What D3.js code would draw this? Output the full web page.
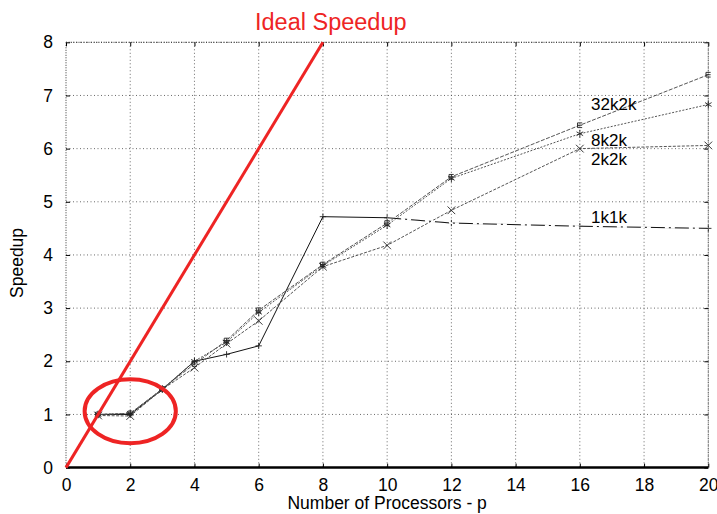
<!DOCTYPE html>
<html>
<head>
<meta charset="utf-8">
<script src="https://cdn.jsdelivr.net/npm/d3@7"></script>
<style>
  body { margin: 0; background: #fff; }
  text { font-family: "Liberation Sans", Arial, sans-serif; }
</style>
</head>
<body>
<script>
// Number of processors used in each run
var procs = [1, 2, 3, 4, 5, 6, 8, 10, 12, 16, 20];
// Measured speedup per problem size
var speedup1k1k = [1.0, 1.0, 1.47, 2.0, 2.13, 2.29, 4.72, 4.70, 4.60, 4.54, 4.50];
var speedup2k2k = [0.98, 0.97, 1.47, 1.88, 2.33, 2.76, 3.78, 4.18, 4.84, 6.0, 6.06];
var speedup8k2k = [1.0, 1.02, 1.48, 2.0, 2.36, 2.92, 3.80, 4.56, 5.44, 6.28, 6.83];
var speedup32k2k = [1.0, 1.02, 1.48, 1.95, 2.39, 2.96, 3.82, 4.60, 5.47, 6.44, 7.39];
// Ideal speedup line
var idealProcs = [0, 8];
var idealSpeedup = [0, 8];
// Axis ticks
var xTicks = [0, 2, 4, 6, 8, 10, 12, 14, 16, 18, 20];
var yTicks = [0, 1, 2, 3, 4, 5, 6, 7, 8];

var W = 717, H = 514;
var margin = {top: 42.3, right: 8.7, bottom: 46.4, left: 66};
var width = W - margin.left - margin.right,
    height = H - margin.top - margin.bottom;

var svg = d3.select("body").append("svg")
  .attr("width", W).attr("height", H);
var g = svg.append("g")
  .attr("transform", "translate(" + margin.left + "," + margin.top + ")");

var x = d3.scaleLinear().domain([0, 20]).range([0, width]);
var y = d3.scaleLinear().domain([0, 8]).range([height, 0]);

// thin "+" marker (gnuplot style)
var symbolPlus = {
  draw: function(ctx, size) {
    var r = Math.sqrt(size) / 2;
    ctx.moveTo(-r, 0); ctx.lineTo(r, 0);
    ctx.moveTo(0, -r); ctx.lineTo(0, r);
  }
};
// box with a bar through it
var symbolBox = {
  draw: function(ctx, size) {
    var r = Math.sqrt(size) / 2;
    ctx.moveTo(-r, -r); ctx.lineTo(r, -r);
    ctx.moveTo(-r, r); ctx.lineTo(r, r);
    ctx.moveTo(-r, 0); ctx.lineTo(r, 0);
    ctx.moveTo(-r, -r); ctx.lineTo(-r, r);
  }
};

// grid lines (dotted)
g.selectAll(".vgrid").data(xTicks.slice(1)).enter().append("line")
  .attr("x1", function(d) { return x(d); }).attr("x2", function(d) { return x(d); })
  .attr("y1", 0).attr("y2", height)
  .attr("stroke", "#444").attr("stroke-width", 0.8).attr("stroke-dasharray", "1,2.5");
g.selectAll(".hgrid").data(yTicks.slice(1)).enter().append("line")
  .attr("x1", 0).attr("x2", width)
  .attr("y1", function(d) { return y(d); }).attr("y2", function(d) { return y(d); })
  .attr("stroke", "#444").attr("stroke-width", 0.8).attr("stroke-dasharray", "1,2.5");

// left and right borders, dotted
g.append("line").attr("x1", 0).attr("x2", 0).attr("y1", 0).attr("y2", height)
  .attr("stroke", "#333").attr("stroke-width", 1).attr("stroke-dasharray", "1,1.5");
g.append("line").attr("x1", width).attr("x2", width).attr("y1", 0).attr("y2", height)
  .attr("stroke", "#555").attr("stroke-width", 1).attr("stroke-dasharray", "1,1");

// axes with inward ticks
var xAxis = g.append("g")
  .attr("transform", "translate(0," + height + ")")
  .call(d3.axisBottom(x).tickValues(xTicks).tickSize(-4).tickPadding(11));
var xTop = g.append("g")
  .call(d3.axisTop(x).tickValues(xTicks).tickSize(-4).tickFormat(""));
var yAxis = g.append("g")
  .call(d3.axisLeft(y).tickValues(yTicks).tickSize(-4).tickPadding(13));
var yRight = g.append("g")
  .attr("transform", "translate(" + width + ",0)")
  .call(d3.axisRight(y).tickValues(yTicks).tickSize(-4).tickFormat(""));

[xAxis, xTop, yAxis, yRight].forEach(function(a) {
  a.select(".domain").remove();
  a.selectAll("line").attr("stroke", "#000").attr("stroke-width", 1);
  a.selectAll("text").attr("font-size", "17.5px").attr("fill", "#000")
    .style("font-family", "Liberation Sans, Arial, sans-serif");
});
// top border dotted
g.append("line").attr("x1", 0).attr("x2", width).attr("y1", 0).attr("y2", 0)
  .attr("stroke", "#333").attr("stroke-width", 1).attr("stroke-dasharray", "1,1.5");
// thick bottom axis line
g.append("line").attr("x1", 0).attr("x2", width).attr("y1", height).attr("y2", height)
  .attr("stroke", "#000").attr("stroke-width", 2.5);

// series
var series = [
  {name: "1k1k", vals: speedup1k1k, dash: null, sym: symbolPlus, label: [16.35, 4.60]},
  {name: "2k2k", vals: speedup2k2k, dash: "3,1.5", sym: d3.symbolTimes, label: [16.35, 5.70]},
  {name: "8k2k", vals: speedup8k2k, dash: "2,1.5", sym: d3.symbolAsterisk, label: [16.35, 6.04]},
  {name: "32k2k", vals: speedup32k2k, dash: "4,1.5", sym: symbolBox, label: [16.35, 6.73]}
];

var line = d3.line()
  .x(function(d) { return x(d[0]); })
  .y(function(d) { return y(d[1]); });

series.forEach(function(s) {
  var pts = procs.map(function(p, i) { return [p, s.vals[i]]; });
  g.append("path").datum(pts)
    .attr("d", line)
    .attr("fill", "none")
    .attr("stroke", s.name == "1k1k" ? "#111" : "#555")
    .attr("stroke-width", 1)
    .attr("stroke-dasharray", s.dash);
  g.selectAll(".pt" + s.name).data(pts).enter().append("path")
    .attr("transform", function(d) { return "translate(" + x(d[0]) + "," + y(d[1]) + ")"; })
    .attr("d", d3.symbol().type(s.sym).size(s.sym == symbolBox ? 22 : 40))
    .attr("fill", "none")
    .attr("stroke", "#222")
    .attr("stroke-width", 0.9);
  g.append("text")
    .attr("x", x(s.label[0])).attr("y", y(s.label[1]))
    .attr("font-size", "17px").attr("fill", "#000")
    .text(s.name);
});

// 1k1k drawn dash-dot after p = 10
var tail = procs.map(function(p, i) { return [p, speedup1k1k[i]]; })
  .filter(function(d) { return d[0] >= 10; });
g.append("path").datum(tail).attr("d", line)
  .attr("fill", "none").attr("stroke", "#fff").attr("stroke-width", 2);
g.append("path").datum(tail).attr("d", line)
  .attr("fill", "none").attr("stroke", "#111").attr("stroke-width", 1)
  .attr("stroke-dasharray", "14,4,2,4");

// ideal speedup
var idealPts = idealProcs.map(function(p, i) { return [p, idealSpeedup[i]]; });
g.append("path").datum(idealPts).attr("d", line)
  .attr("fill", "none").attr("stroke", "#ee2424").attr("stroke-width", 3);
svg.append("text")
  .attr("x", 255).attr("y", 30)
  .attr("font-size", "23.5px").attr("fill", "#ee2424")
  .text("Ideal Speedup");

// highlight ellipse around p = 1..2
g.append("ellipse")
  .attr("cx", x(2)).attr("cy", y(1.06))
  .attr("rx", x(1.42) - x(0)).attr("ry", y(0) - y(0.6))
  .attr("fill", "none").attr("stroke", "#ee2424").attr("stroke-width", 4);

// axis titles
svg.append("text")
  .attr("x", margin.left + width / 2).attr("y", 509)
  .attr("text-anchor", "middle").attr("font-size", "17.5px")
  .text("Number of Processors - p");
svg.append("text")
  .attr("transform", "translate(23," + (margin.top + height / 2 + 8) + ") rotate(-90)")
  .attr("text-anchor", "middle").attr("font-size", "17.5px")
  .text("Speedup");
</script>
</body>
</html>
